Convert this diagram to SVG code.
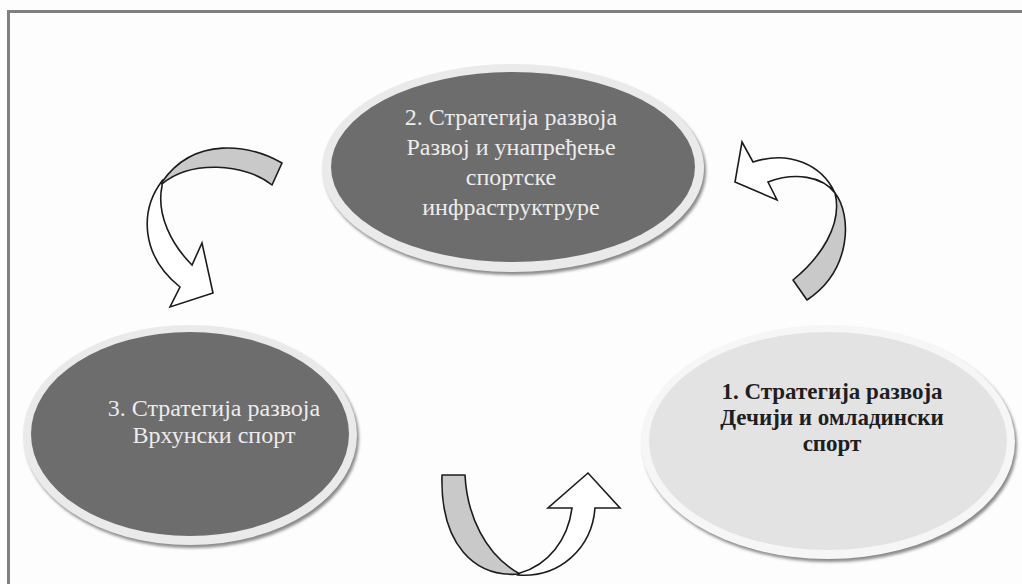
<svg xmlns="http://www.w3.org/2000/svg" width="1022" height="584" viewBox="0 0 1022 584">
  <defs>
    <filter id="soft" x="-10%" y="-10%" width="120%" height="130%">
      <feGaussianBlur stdDeviation="1.6"/>
    </filter>
    <style>
      .shadow { fill: #8a8a8a; filter: url(#soft); }
      .rim { fill: #eaeaea; }
      .dark { fill: #6d6d6d; }
      .light { fill: #e3e3e3; }
      .lrim { fill: #f6f6f6; }
      .tl { font-family: "Liberation Serif", "Times New Roman", serif; font-size: 24px; fill: #ececec; text-anchor: middle; }
      .td { font-family: "Liberation Serif", "Times New Roman", serif; font-size: 23px; font-weight: bold; fill: #1e1e1e; text-anchor: middle; }
      .band { fill: #c9c9c9; stroke: #1c1c1c; stroke-width: 1.6; stroke-linejoin: round; }
      .shaft { fill: #ffffff; stroke: #1c1c1c; stroke-width: 1.6; stroke-linejoin: miter; }
    </style>
  </defs>
  <rect x="0" y="0" width="1022" height="584" fill="#fdfdfd"/>
  <rect x="8.5" y="11.5" width="1030" height="600" fill="none" stroke="#808080" stroke-width="3"/>

  <g id="node2">
    <ellipse class="shadow" cx="515" cy="171" rx="191" ry="104"/>
    <ellipse class="rim" cx="513" cy="168" rx="191" ry="104"/>
    <ellipse class="dark" cx="513" cy="167" rx="182" ry="95"/>
    <text class="tl" x="511" y="125">2. Стратегија развоја</text>
    <text class="tl" x="511" y="155">Развој и унапређење</text>
    <text class="tl" x="511" y="185">спортске</text>
    <text class="tl" x="511" y="215">инфраструктруре</text>
  </g>

  <g id="node3">
    <ellipse class="shadow" cx="192" cy="438" rx="167" ry="110"/>
    <ellipse class="rim" cx="190" cy="435" rx="167" ry="110"/>
    <ellipse class="dark" cx="190" cy="434" rx="159" ry="102"/>
    <text class="tl" x="214" y="416">3. Стратегија развоја</text>
    <text class="tl" x="214" y="443">Врхунски спорт</text>
  </g>

  <g id="node1">
    <ellipse class="shadow" cx="830" cy="445" rx="187" ry="117"/>
    <ellipse class="lrim" cx="828" cy="442" rx="187" ry="117"/>
    <ellipse class="light" cx="828" cy="441" rx="179" ry="109"/>
    <text class="td" x="832" y="399">1. Стратегија развоја</text>
    <text class="td" x="832" y="425">Дечији и омладински</text>
    <text class="td" x="832" y="451">спорт</text>
  </g>

  <g id="connectors">
    <g id="arrow-2-to-3">
      <path class="band" d="M 282,163 C 250,145 195,135 162,182 L 162,184 C 190,160 245,163 272,185 Z"/>
      <path class="shaft" d="M 162,181 C 140,210 140,255 180,287 L 170,307 L 213,293 L 202,243 L 192,265 C 172,245 156,215 162,186 Z"/>
    </g>
    <g id="arrow-1-to-2">
      <path class="band" d="M 793,280 C 820,258 843,225 835,193 C 852,215 852,270 807,300 Z"/>
      <path class="shaft" d="M 835,193 C 822,165 790,150 753,162 L 742,142 L 735,182 L 777,200 L 768,182 C 795,172 822,176 835,193 Z"/>
    </g>
    <g id="arrow-3-to-1">
      <path class="band" d="M 442,475 L 465,475 C 467,515 485,555 520,574 C 475,578 440,545 442,475 Z"/>
      <path class="shaft" d="M 518,575 C 560,578 592,548 595,508 L 620,508 L 588,473 L 548,508 L 572,508 C 568,540 548,565 520,573 Z"/>
    </g>
  </g>
</svg>
